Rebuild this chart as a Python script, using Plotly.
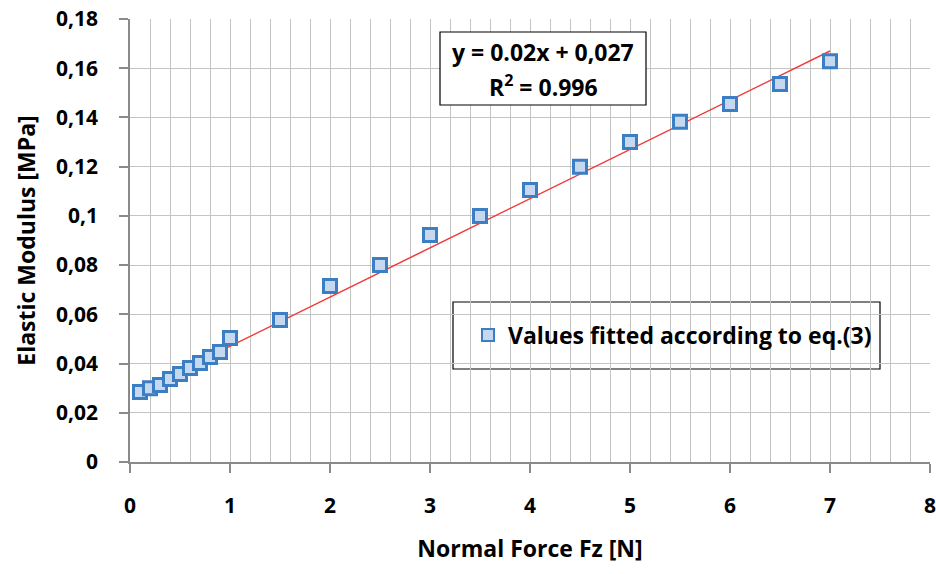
import plotly.graph_objects as go

force = [0.1, 0.2, 0.3, 0.4, 0.5, 0.6, 0.7, 0.8, 0.9, 1.0,
         1.5, 2.0, 2.5, 3.0, 3.5, 4.0, 4.5, 5.0, 5.5, 6.0, 6.5, 7.0]
modulus = [0.0284, 0.0300, 0.0313, 0.0337, 0.0358, 0.0382, 0.0402, 0.0427, 0.0447, 0.0504,
           0.0577, 0.0715, 0.0800, 0.0922, 0.1000, 0.1105, 0.1200, 0.1300, 0.1383, 0.1455, 0.1536, 0.1628]
fit_slope = 0.02
fit_intercept = 0.027
r_squared = 0.996
y_ticks = [0, 0.02, 0.04, 0.06, 0.08, 0.1, 0.12, 0.14, 0.16, 0.18]
y_tick_labels = ["0", "0,02", "0,04", "0,06", "0,08", "0,1", "0,12", "0,14", "0,16", "0,18"]
x_ticks = [0, 1, 2, 3, 4, 5, 6, 7, 8]

FONT = "Open Sans"
FS_TICK = 21
FS_TEXT = 23
fit_x = [min(force), max(force)]
fit_y = [fit_slope * v + fit_intercept for v in fit_x]

# plot area in pixels: x 130..930, y 19..462
def px(xp):
    return (xp - 130) / 800

def py(yp):
    return (462 - yp) / 443

fig = go.Figure()
fig.add_trace(go.Scatter(
    x=fit_x, y=fit_y, mode="lines",
    line=dict(color="#f23a3a", width=1.5), showlegend=False, hoverinfo="skip"))
fig.add_trace(go.Scatter(
    x=force, y=modulus, mode="markers", name="Values fitted according to eq.(3)",
    marker=dict(symbol="square", size=13, color="#c5d8f0",
                line=dict(color="#3b7ec3", width=3))))

fig.update_layout(
    width=936, height=574,
    margin=dict(l=130, r=6, t=19, b=112, autoexpand=False),
    paper_bgcolor="white", plot_bgcolor="white",
    font=dict(family=FONT, color="black", size=FS_TEXT),
    showlegend=True,
    legend=dict(x=px(468), y=py(335), xanchor="left", yanchor="middle",
                bgcolor="rgba(0,0,0,0)", borderwidth=0,
                font=dict(family=FONT, size=FS_TEXT, color="black", weight="bold"),
                itemsizing="constant", itemwidth=30),
    xaxis=dict(range=[0, 8], tickvals=x_ticks, showgrid=True, gridcolor="#c4c4c4", gridwidth=1,
               minor=dict(dtick=0.2, showgrid=True, gridcolor="#c4c4c4", gridwidth=1),
               showline=True, linecolor="#8a8a8a", linewidth=1.5,
               ticks="outside", ticklen=9, tickcolor="#8a8a8a", tickwidth=1.5,
               ticklabelstandoff=15, zeroline=False, automargin=False,
               ticklabeloverflow="allow",
               tickfont=dict(family=FONT, size=FS_TICK, weight="bold"),
               title=dict(text="Normal Force Fz [N]", standoff=23,
                          font=dict(family=FONT, size=FS_TEXT, weight="bold"))),
    yaxis=dict(range=[0, 0.18], tickvals=y_ticks, ticktext=y_tick_labels,
               showgrid=True, gridcolor="#c4c4c4", gridwidth=1,
               showline=True, linecolor="#8a8a8a", linewidth=1.5,
               ticks="outside", ticklen=9, tickcolor="#8a8a8a", tickwidth=1.5,
               ticklabelstandoff=17, zeroline=False, automargin=False,
               ticklabeloverflow="allow",
               tickfont=dict(family=FONT, size=FS_TICK, weight="bold"),
               title=dict(text="Elastic Modulus [MPa]", standoff=14,
                          font=dict(family=FONT, size=FS_TEXT, weight="bold"))),
)

# legend frame
fig.add_shape(type="rect", xref="paper", yref="paper",
              x0=px(453), x1=px(880), y0=py(369), y1=py(302),
              line=dict(color="black", width=1.2), fillcolor="white", layer="between")

# equation box
fig.add_shape(type="rect", xref="paper", yref="paper",
              x0=px(440), x1=px(646), y0=py(105), y1=py(32),
              line=dict(color="black", width=1.2), fillcolor="white", layer="above")
eq_lines = [f"y = {fit_slope}x + {str(fit_intercept).replace('.', ',')}",
            f"R<sup>2</sup> = {r_squared}"]
for line_text, ypix in zip(eq_lines, [52, 86]):
    fig.add_annotation(
        xref="paper", yref="paper", x=px(543), y=py(ypix),
        xanchor="center", yanchor="middle",
        text=line_text, showarrow=False,
        font=dict(family=FONT, size=FS_TEXT, color="black", weight="bold"))

fig.write_html("out.html")
